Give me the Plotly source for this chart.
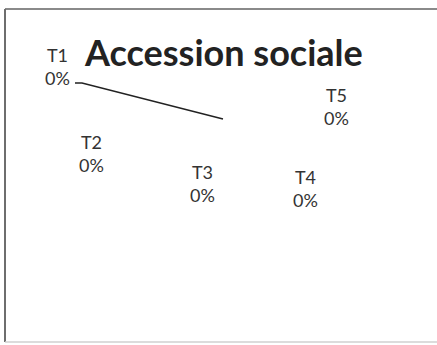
import plotly.graph_objects as go

# ---- data ----
categories = ["T1", "T2", "T3", "T4", "T5"]
values = [0, 0, 0, 0, 0]
title_text = "Accession sociale"

W, H = 437, 345

# label block centres (pixels) — layout only
label_px = [(58, 66), (91, 154), (202, 183), (305, 189), (336, 106)]


def px(x, y):
    return x / W, 1 - y / H


fig = go.Figure()
fig.add_trace(go.Pie(labels=categories, values=values, textinfo="none",
                     showlegend=False, sort=False, hoverinfo="label+percent"))

annotations = []
for cat, val, (x, y) in zip(categories, values, label_px):
    xp, yp = px(x, y)
    annotations.append(dict(
        x=xp, y=yp, xref="paper", yref="paper", xanchor="center", yanchor="middle",
        text=f"{cat}<br>{val}%", showarrow=False,
        font=dict(family="Lato, Liberation Sans, sans-serif", size=18, color="#333333"),
    ))

tx, ty = px(223, 52)
annotations.append(dict(
    x=tx, y=ty, xref="paper", yref="paper", xanchor="center", yanchor="middle",
    text=f"<b>{title_text}</b>", showarrow=False,
    font=dict(family="Lato, Liberation Sans, sans-serif", size=36, color="#222222"),
))

fx0, fy0 = px(5, 9)
fx1, fy1 = px(445, 342)
la, lb = px(75, 83)
lm, lmy = px(82, 83)
lc, ld = px(223, 119)

shapes = [
    # top edge
    dict(type="line", xref="paper", yref="paper", x0=fx0, y0=fy0, x1=fx1, y1=fy0,
         line=dict(color="#8a8a8a", width=2)),
    # left edge
    dict(type="line", xref="paper", yref="paper", x0=fx0, y0=fy0, x1=fx0, y1=fy1,
         line=dict(color="#6e6e6e", width=2)),
    # bottom edge (faint)
    dict(type="line", xref="paper", yref="paper", x0=fx0, y0=fy1, x1=fx1, y1=fy1,
         line=dict(color="#d0d0d0", width=1.5)),
    # leader line for T1
    dict(type="path", xref="paper", yref="paper",
         path=f"M {la} {lb} L {lm} {lmy} L {lc} {ld}",
         line=dict(color="#222222", width=1.5)),
]

fig.update_layout(
    width=W, height=H, margin=dict(l=0, r=0, t=0, b=0),
    paper_bgcolor="white", plot_bgcolor="white",
    annotations=annotations, shapes=shapes, showlegend=False,
)

fig.write_html(
    "out.html",
    config={"displayModeBar": False},
    post_script="document.body.style.margin='0';document.body.style.overflow='hidden';",
)
